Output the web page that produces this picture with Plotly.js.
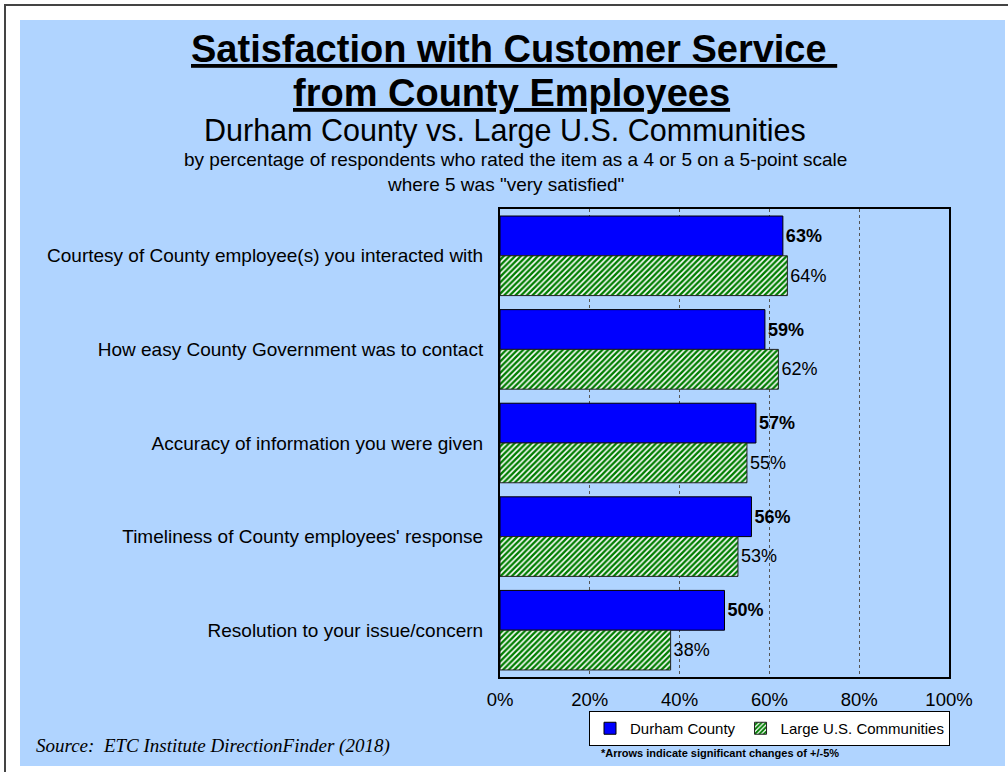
<!DOCTYPE html>
<html>
<head>
<meta charset="utf-8">
<script src="https://cdn.plot.ly/plotly-3.0.1.min.js"></script>
<style>html,body{margin:0;padding:0;background:#fff;}#chart{width:1008px;height:772px;}</style>
</head>
<body>
<div id="chart"></div>
<script>
const categories = [
  "Courtesy of County employee(s) you interacted with",
  "How easy County Government was to contact",
  "Accuracy of information you were given",
  "Timeliness of County employees' response",
  "Resolution to your issue/concern"
];
const durhamValues = [63, 59, 57, 56, 50];
const largeUSValues = [64, 62, 55, 53, 38];
const seriesNames = ["Durham County", "Large U.S. Communities"];
const tickValues = [0, 20, 40, 60, 80, 100];
const tickLabels = ["0%", "20%", "40%", "60%", "80%", "100%"];

// plot area in pixels
const L = 500, R = 949, T = 209, B = 677, W = 1008, H = 772;
const px = x => (x - L) / (R - L);
const py = y => (B - y) / (B - T);

const FONT = "Liberation Sans, Arial, sans-serif";

const traces = [
  {
    type: "bar", orientation: "h", name: seriesNames[0],
    y: categories, x: durhamValues,
    marker: {color: "#0000FF", line: {color: "#000000", width: 1}},
    texttemplate: "<b>%{x}%</b>", textposition: "outside",
    textfont: {family: FONT, size: 18, color: "#000"},
    cliponaxis: false, hoverinfo: "x+y"
  },
  {
    type: "bar", orientation: "h", name: seriesNames[1],
    y: categories, x: largeUSValues,
    marker: {color: "#008000",
      pattern: {shape: "/", bgcolor: "#ffffff", fgcolor: "#007d00", size: 4, solidity: 0.6, fillmode: "replace"},
      line: {color: "#222222", width: 1}},
    texttemplate: "%{x}%", textposition: "outside",
    textfont: {family: FONT, size: 18, color: "#000"},
    cliponaxis: false, hoverinfo: "x+y"
  }
];

const layout = {
  width: W, height: H,
  margin: {l: L, r: W - R, t: T, b: H - B, pad: 0},
  paper_bgcolor: "#ffffff",
  plot_bgcolor: "#ffffff",
  barmode: "group", bargap: 0.15, bargroupgap: 0,
  font: {family: FONT, color: "#000"},
  showlegend: true,
  legend: {
    orientation: "h", traceorder: "normal",
    x: px(950), xanchor: "right", y: py(711), yanchor: "top",
    bgcolor: "#ffffff", bordercolor: "#000000", borderwidth: 1,
    font: {family: FONT, size: 15, color: "#000"},
    itemwidth: 30, tracegroupgap: 0
  },
  xaxis: {
    range: [0, 100], tickvals: tickValues, ticktext: tickLabels,
    showgrid: true, gridcolor: "#555555", griddash: "dot", gridwidth: 1,
    zeroline: false, showline: true, mirror: true, linecolor: "#000", linewidth: 2,
    ticks: "", tickfont: {family: FONT, size: 18.5, color: "#000"}, ticklabelstandoff: 5,
    fixedrange: true
  },
  yaxis: {
    autorange: "reversed", showgrid: false, zeroline: false,
    showline: true, mirror: true, linecolor: "#000", linewidth: 2,
    ticks: "", tickfont: {family: FONT, size: 19, color: "#000"}, ticklabelstandoff: 11,
    fixedrange: true
  },
  shapes: [
    {type: "rect", xref: "paper", yref: "paper", layer: "below",
     x0: px(20), x1: px(1005), y0: py(20), y1: py(766),
     fillcolor: "#B0D4FF", line: {width: 0}},
    {type: "line", xref: "paper", yref: "paper",
     x0: px(4), x1: px(1008), y0: py(5), y1: py(5), line: {color: "#444", width: 2}},
    {type: "line", xref: "paper", yref: "paper",
     x0: px(5), x1: px(5), y0: py(4), y1: py(772), line: {color: "#444", width: 2}}
  ],
  annotations: [
    {xref: "paper", yref: "paper", x: px(514), y: py(49), xanchor: "center", yanchor: "middle",
     text: "<b><u>Satisfaction with Customer Service </u></b>", showarrow: false,
     font: {family: FONT, size: 38, color: "#000"}},
    {xref: "paper", yref: "paper", x: px(511), y: py(93), xanchor: "center", yanchor: "middle",
     text: "<b><u>from County Employees</u></b>", showarrow: false,
     font: {family: FONT, size: 38, color: "#000"}},
    {xref: "paper", yref: "paper", x: px(505), y: py(131), xanchor: "center", yanchor: "middle",
     text: "Durham County vs. Large U.S. Communities", showarrow: false,
     font: {family: FONT, size: 30.5, color: "#000"}},
    {xref: "paper", yref: "paper", x: px(515), y: py(160), xanchor: "center", yanchor: "middle",
     text: "by percentage of respondents who rated the item as a 4 or 5 on a 5-point scale", showarrow: false,
     font: {family: FONT, size: 19, color: "#000"}},
    {xref: "paper", yref: "paper", x: px(505), y: py(184), xanchor: "center", yanchor: "middle",
     text: "where 5 was \"very satisfied\"", showarrow: false,
     font: {family: FONT, size: 19, color: "#000"}},
    {xref: "paper", yref: "paper", x: px(34), y: py(746), xanchor: "left", yanchor: "middle",
     text: "<i>Source:  ETC Institute DirectionFinder (2018)</i>", showarrow: false,
     font: {family: "Liberation Serif, Times New Roman, serif", size: 19, color: "#000"}},
    {xref: "paper", yref: "paper", x: px(599), y: py(753), xanchor: "left", yanchor: "middle",
     text: "<b>*Arrows indicate significant changes of +/-5%</b>", showarrow: false,
     font: {family: FONT, size: 11, color: "#000"}}
  ]
};

Plotly.newPlot("chart", traces, layout, {displayModeBar: false, staticPlot: true});
</script>
</body>
</html>
